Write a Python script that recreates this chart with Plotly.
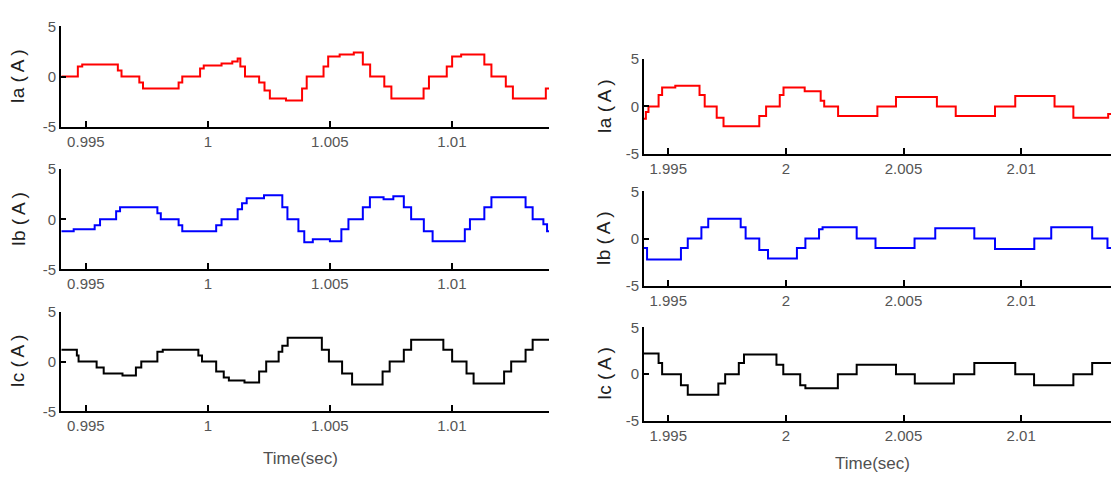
import plotly.graph_objects as go

# ---------------- data (step waveforms) ----------------
ia_left_t = [0.99400, 0.99467, 0.99485, 0.99631, 0.99646, 0.99719, 0.99734, 0.99880, 0.99895, 0.99968,
             0.99983, 1.00056, 1.00100, 1.00122, 1.00133, 1.00152, 1.00210, 1.00232, 1.00254, 1.00320,
             1.00386, 1.00405, 1.00474, 1.00493, 1.00540, 1.00598, 1.00635, 1.00665, 1.00723, 1.00752,
             1.00884, 1.00906, 1.00979, 1.01001, 1.01038, 1.01133, 1.01162, 1.01221, 1.01250, 1.01385,
             1.01398]
ia_left_v = [0, 1.0, 1.2, 0.6, 0, -0.6, -1.2, -0.6, 0, 0.8,
             1.1, 1.3, 1.5, 1.8, 1.0, 0, -0.6, -1.4, -2.2, -2.4,
             -1.2, 0, 1.0, 2.0, 2.2, 2.4, 1.2, 0, -1.0, -2.2,
             -1.2, 0, 1.0, 2.0, 2.2, 1.2, 0, -1.0, -2.2, -1.2,
             -1.2]

ib_left_t = [0.99400, 0.99450, 0.99536, 0.99558, 0.99624, 0.99640, 0.99793, 0.99807, 0.99880, 0.99895,
             1.00034, 1.00056, 1.00122, 1.00140, 1.00159, 1.00230, 1.00305, 1.00326, 1.00371, 1.00395,
             1.00430, 1.00500, 1.00547, 1.00576, 1.00635, 1.00664, 1.00720, 1.00760, 1.00803, 1.00833,
             1.00885, 1.00921, 1.01053, 1.01074, 1.01133, 1.01162, 1.01302, 1.01331, 1.01375, 1.01390,
             1.01398]
ib_left_v = [-1.2, -1.0, -0.6, 0, 0.8, 1.2, 0.6, 0, -0.6, -1.2,
             -0.6, 0, 1.0, 1.6, 2.1, 2.4, 1.2, 0, -1.2, -2.3,
             -2.0, -2.2, -1.0, 0, 1.2, 2.2, 2.0, 2.3, 1.2, 0,
             -1.2, -2.2, -1.0, 0, 1.2, 2.2, 1.2, 0, -0.5, -1.2,
             -1.2]

ic_left_t = [0.99400, 0.99463, 0.99470, 0.99544, 0.99573, 0.99650, 0.99705, 0.99727, 0.99793, 0.99815,
             0.99961, 0.99976, 1.00034, 1.00065, 1.00086, 1.00150, 1.00210, 1.00239, 1.00290, 1.00305,
             1.00327, 1.00467, 1.00496, 1.00550, 1.00591, 1.00716, 1.00745, 1.00803, 1.00833, 1.00965,
             1.01001, 1.01060, 1.01089, 1.01214, 1.01243, 1.01302, 1.01331, 1.01398]
ic_left_v = [1.2, 0.6, 0, -0.6, -1.2, -1.4, -0.6, 0, 1.0, 1.2,
             0.6, 0, -1.0, -1.6, -1.9, -2.1, -1.0, 0, 1.0, 1.6,
             2.4, 1.2, 0, -1.2, -2.3, -1.0, 0, 1.2, 2.2, 1.2,
             0, -1.2, -2.2, -1.0, 0, 1.2, 2.2, 2.2]

ia_right_t = [1.99397, 1.99405, 1.99416, 1.99459, 1.99474, 1.99530, 1.99633, 1.99655, 1.99706, 1.99735,
              1.99887, 1.99916, 1.99974, 1.99990, 2.00080, 2.00148, 2.00163, 2.00222, 2.00389, 2.00468,
              2.00642, 2.00722, 2.00889, 2.00975, 2.01142, 2.01222, 2.01370, 2.01382]
ia_right_v = [-1.3, -0.6, 0, 1.2, 2.0, 2.2, 1.2, 0, -1.2, -2.1,
              -1.0, 0, 1.2, 2.0, 1.6, 0.6, 0, -1.0, 0, 1.0,
              0, -1.0, 0, 1.1, 0, -1.2, -0.8, -0.8]

ib_right_t = [1.99397, 1.99410, 1.99554, 1.99583, 1.99641, 1.99670, 1.99808, 1.99829, 1.99887, 1.99924,
              2.00047, 2.00083, 2.00141, 2.00156, 2.00301, 2.00381, 2.00547, 2.00635, 2.00801, 2.00889,
              2.01056, 2.01128, 2.01302, 2.01367, 2.01382]
ib_right_v = [-1.0, -2.2, -1.0, 0, 1.2, 2.1, 1.2, 0, -1.2, -2.1,
              -1.0, 0, 1.0, 1.2, 0, -1.0, 0, 1.1, 0, -1.1,
              0, 1.2, 0, -1.0, -1.0]

ic_right_t = [1.99397, 1.99459, 1.99474, 1.99554, 1.99583, 1.99713, 1.99742, 1.99800, 1.99822, 1.99960,
              1.99989, 2.00061, 2.00083, 2.00221, 2.00301, 2.00468, 2.00548, 2.00714, 2.00801, 2.00975,
              2.01055, 2.01222, 2.01302, 2.01382]
ic_right_v = [2.2, 1.2, 0, -1.2, -2.2, -1.0, 0, 1.2, 2.1, 1.0,
              0, -1.2, -1.5, 0, 1.0, 0, -1.0, 0, 1.2, 0,
              -1.2, 0, 1.2, 1.2]

left_tickvals = [0.995, 1.0, 1.005, 1.01]
left_ticktext = ["0.995", "1", "1.005", "1.01"]
right_tickvals = [1.995, 2.0, 2.005, 2.01]
right_ticktext = ["1.995", "2", "2.005", "2.01"]
y_tickvals = [5, 0, -5]
y_ticktext = ["5", "0", "-5"]
y_titles = ["Ia (\u2009A\u2009)", "Ib (\u2009A\u2009)", "Ic (\u2009A\u2009)"]
x_title = "Time(sec)"

# ---------------- figure ----------------
W, H = 1111, 481
fig = go.Figure()

panels = [
    # (t, v, color, x-domain px, y-domain px (top,bottom), x-range, ticks)
    (ia_left_t, ia_left_v, "#ff0000", (61, 549), (18, 122), (0.99398, 1.01398), "L"),
    (ib_left_t, ib_left_v, "#0000ff", (61, 549), (166, 270), (0.99398, 1.01398), "L"),
    (ic_left_t, ic_left_v, "#000000", (61, 549), (314, 417), (0.99398, 1.01398), "L"),
    (ia_right_t, ia_right_v, "#ff0000", (644, 1111), (52, 150), (1.99397, 2.01382), "R"),
    (ib_right_t, ib_right_v, "#0000ff", (644, 1111), (189, 287), (1.99397, 2.01382), "R"),
    (ic_right_t, ic_right_v, "#000000", (644, 1111), (330, 427), (1.99397, 2.01382), "R"),
]

FONT = "Liberation Sans, Arial, sans-serif"
tick_font = dict(family=FONT, size=15, color="#555555")

for i, (t, v, col, xd, yd, xr, side) in enumerate(panels):
    n = "" if i == 0 else str(i + 1)
    fig.add_trace(go.Scatter(x=t, y=v, mode="lines", line=dict(color=col, width=2, shape="hv"),
                             xaxis="x" + n, yaxis="y" + n, showlegend=False, hoverinfo="skip"))
    tv, tt = (left_tickvals, left_ticktext) if side == "L" else (right_tickvals, right_ticktext)
    fig.layout["xaxis" + n] = dict(
        domain=[xd[0] / W, xd[1] / W], range=list(xr), anchor="y" + n,
        tickvals=tv, ticktext=tt, ticks="inside", ticklen=6, tickwidth=2, tickcolor="#000",
        showline=True, linecolor="#000", linewidth=2, showgrid=False, zeroline=False,
        tickfont=tick_font, fixedrange=True,
    )
    fig.layout["yaxis" + n] = dict(
        domain=[1 - yd[1] / H, 1 - yd[0] / H], range=[-5, 5], anchor="x" + n,
        tickvals=y_tickvals, ticktext=y_ticktext, ticks="inside", ticklen=5, tickwidth=2, tickcolor="#000",
        showline=True, linecolor="#000", linewidth=2, showgrid=False, zeroline=False,
        tickfont=tick_font, fixedrange=True,
    )
    # y-axis title
    xc = (18 if side == "L" else 604) / W
    fig.add_annotation(text=y_titles[i % 3], xref="paper", yref="paper", x=xc,
                       y=1 - (yd[0] + yd[1]) / 2 / H, textangle=-90, showarrow=False,
                       font=dict(family=FONT, size=19, color="#202020"),
                       xanchor="center", yanchor="middle")

# x-axis titles
for xc, yc in [(300, 466), (872, 471)]:
    fig.add_annotation(text=x_title, xref="paper", yref="paper", x=xc / W, y=1 - yc / H,
                       showarrow=False, xanchor="center", yanchor="middle",
                       font=dict(family=FONT, size=17, color="#505050"))

fig.update_layout(width=W, height=H, margin=dict(l=0, r=0, t=0, b=0),
                  paper_bgcolor="white", plot_bgcolor="white")

fig.write_html("out.html")
